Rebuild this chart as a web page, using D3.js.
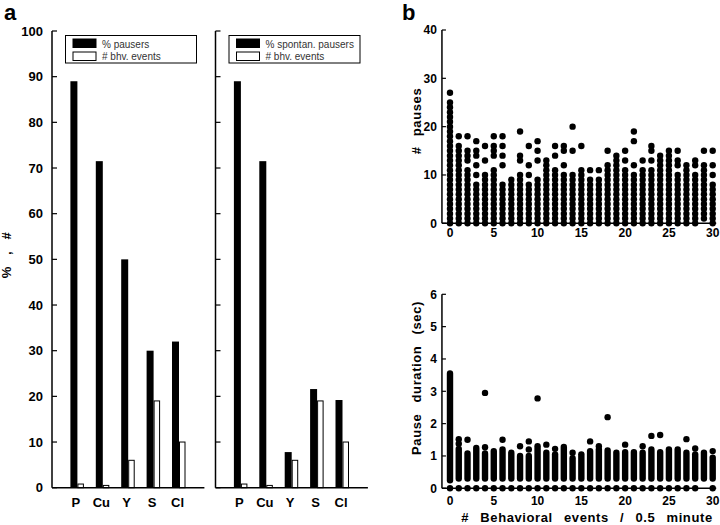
<!DOCTYPE html>
<html><head><meta charset="utf-8">
<script src="https://cdn.jsdelivr.net/npm/d3@7"></script>
<style>body{margin:0;background:#fff} svg{display:block} text{font-family:"Liberation Sans",Arial,Helvetica,sans-serif}</style>
</head><body><svg id="c" width="720" height="525"></svg>
<script>
// ---------- Panel a data ----------
const categories = ["P", "Cu", "Y", "S", "Cl"];
const pctPausers = [89, 71.5, 50, 30, 32];
const pctSpontPausers = [89, 71.5, 7.8, 21.6, 19.2];
const bhvEvents = [0.8, 0.5, 6, 19, 10];
const yTicksA = [0, 10, 20, 30, 40, 50, 60, 70, 80, 90, 100];

// ---------- Panel b data ----------
const eventCounts = [0,1,2,3,4,5,6,7,8,9,10,11,12,13,14,15,16,17,18,19,20,21,22,23,24,25,26,27,28,29,30];
// # pauses: every integer from pauseLow..pauseTop is present, plus extra isolated values
const pauseLow = [0,0,0,0,0,0,0,0,0,0,0,0,0,0,0,0,0,0,0,0,0,0,0,0,0,0,0,0,0,1,0];
const pauseTop = [25,16,11,8,10,11,8,9,10,8,9,13,11,10,10,11,9,9,12,14,11,10,11,11,14,15,10,12,10,12,8];
const pauseExtra = [[27],[18],[13,14,15,18],[10,12,14,15,17],[13,16],[14,15,16,18],[12,14,16,18],[],[13,14,19],[10,12,16],[13,15,17],[],[14,16],[12,15,16],[15,20],[16],[11],[11],[15],[],[13,15],[12,17,19],[13],[13,15,16],[],[],[12,13,15],[],[12,13],[15],[10,12,15]];
// pause duration: dense band durLow..durTop, zero-duration dots, isolated long pauses
const durLow = [0.25,0.3,0.3,0.3,0.3,0.3,0.3,0.3,0.3,0.3,0.3,0.3,0.3,0.3,0.3,0.3,0.3,0.3,0.3,0.3,0.3,0.3,0.3,0.3,0.3,0.3,0.3,0.3,0.3,0.3,0.3];
const durTop = [3.55,1.22,1.08,1.25,1.08,1.15,1.2,1.1,1.0,1.0,1.3,1.1,1.05,1.28,0.93,1.05,1.15,1.2,1.17,1.1,1.12,1.12,1.1,1.2,1.12,1.2,1.2,1.1,1.05,1.1,0.95];
const durExtra = [[],[1.38,1.52],[1.5],[],[1.27,2.95],[],[1.5],[],[1.3],[1.2,1.45],[2.78],[1.35],[1.22],[],[1.1],[],[1.45],[1.3],[2.2],[],[1.35],[],[1.3],[1.62],[1.65],[],[],[1.52],[1.23],[],[1.15]];
const durZero = [0,1,2,3,4,5,6,7,8,9,10,11,12,13,14,15,16,17,18,19,20,21,22,23,24,25,26,27,28,30];
const xTicksB = [0,5,10,15,20,25,30];
const yTicksPause = [0,10,20,30,40];
const yTicksDur = [0,1,2,3,4,5,6];

const svg = d3.select("#c");

// ---------- Panel a ----------
const yA = d3.scaleLinear().domain([0, 100]).range([487.7, 31]);
function barPanel(x0, blackVals, legendText, showLabels) {
  const xA = d3.scaleLinear().domain([0, 6]).range([x0, x0 + 152.4]);
  const g = svg.append("g");
  const bw = 7, ww = 6.5;
  g.selectAll(".blk").data(blackVals).enter().append("rect")
    .attr("x", (d, i) => xA(i + 1) - bw).attr("width", bw)
    .attr("y", d => yA(d)).attr("height", d => yA(0) - yA(d)).attr("fill", "#000");
  g.selectAll(".wht").data(bhvEvents).enter().append("rect")
    .attr("x", (d, i) => xA(i + 1) + 0.5).attr("width", ww - 1)
    .attr("y", d => yA(d)).attr("height", d => yA(0) - yA(d))
    .attr("fill", "#fff").attr("stroke", "#000").attr("stroke-width", 1);
  // axes
  g.append("line").attr("x1", x0).attr("x2", x0).attr("y1", yA(100)).attr("y2", yA(0)).attr("stroke", "#000").attr("stroke-width", 1.5);
  g.append("line").attr("x1", x0).attr("x2", xA(6)).attr("y1", yA(0)).attr("y2", yA(0)).attr("stroke", "#000").attr("stroke-width", 1.5);
  g.selectAll(".tk").data(yTicksA).enter().append("line")
    .attr("x1", x0).attr("x2", x0 + 5).attr("y1", d => yA(d)).attr("y2", d => yA(d)).attr("stroke", "#000").attr("stroke-width", 1.2);
  if (showLabels) {
    g.selectAll(".tl").data(yTicksA).enter().append("text")
      .attr("x", x0 - 9).attr("y", d => yA(d) + 4.6).attr("text-anchor", "end")
      .attr("font-size", 13).attr("font-weight", "bold").text(d => d);
  }
  g.selectAll(".cl").data(categories).enter().append("text")
    .attr("x", (d, i) => xA(i + 1) - 1.5).attr("y", 507).attr("text-anchor", "middle")
    .attr("font-size", 13).attr("font-weight", "bold").text(d => d);
  // legend
  const lx = x0 + 13.5, ly = 35.5;
  g.append("rect").attr("x", lx).attr("y", ly).attr("width", 131).attr("height", 27.5).attr("fill", "#fff").attr("stroke", "#000").attr("stroke-width", 1);
  g.append("rect").attr("x", lx + 7).attr("y", ly + 3).attr("width", 24).attr("height", 9.5).attr("fill", "#000");
  g.append("rect").attr("x", lx + 7.5).attr("y", ly + 16.5).attr("width", 23).attr("height", 8.5).attr("fill", "#fff").attr("stroke", "#000").attr("stroke-width", 1);
  g.append("text").attr("x", lx + 36.5).attr("y", ly + 12.3).attr("font-size", 10).attr("fill", "#333").text(legendText[0]);
  g.append("text").attr("x", lx + 36.5).attr("y", ly + 24.5).attr("font-size", 10).attr("fill", "#333").text(legendText[1]);
}
barPanel(52, pctPausers, ["% pausers", "# bhv. events"], true);
barPanel(215.5, pctSpontPausers, ["% spontan. pausers", "# bhv. events"], false);

svg.append("text").attr("transform", "translate(11,255) rotate(-90)").attr("text-anchor", "middle")
  .attr("font-size", 13).attr("font-weight", "bold").attr("letter-spacing", 0.6).attr("word-spacing", 7).text("% , #");

svg.append("text").attr("x", 4).attr("y", 20).attr("font-size", 22).attr("font-weight", "bold").text("a");
svg.append("text").attr("x", 402).attr("y", 20).attr("font-size", 22).attr("font-weight", "bold").text("b");

// ---------- Panel b ----------
const xB = d3.scaleLinear().domain([0, 30]).range([450, 712.7]);
const xLeft = xB(-0.92), xRight = xB(30.4);
const R = 3.2;

function axesB(y, ticks, tickLabelBaselineOffset) {
  const g = svg.append("g");
  g.append("line").attr("x1", xLeft).attr("x2", xLeft).attr("y1", y.range()[1]).attr("y2", y.range()[0]).attr("stroke", "#000").attr("stroke-width", 1.5);
  g.append("line").attr("x1", xLeft).attr("x2", xRight).attr("y1", y.range()[0]).attr("y2", y.range()[0]).attr("stroke", "#000").attr("stroke-width", 1.5);
  g.selectAll(".tk").data(ticks).enter().append("line")
    .attr("x1", xLeft).attr("x2", xLeft + 4).attr("y1", d => y(d)).attr("y2", d => y(d)).attr("stroke", "#000").attr("stroke-width", 1.2);
  g.selectAll(".tl").data(ticks).enter().append("text")
    .attr("x", xLeft - 5).attr("y", d => y(d) + 4.3).attr("text-anchor", "end")
    .attr("font-size", 12).attr("font-weight", "bold").text(d => d);
  g.selectAll(".xl").data(xTicksB).enter().append("text")
    .attr("x", d => xB(d)).attr("y", y.range()[0] + tickLabelBaselineOffset).attr("text-anchor", "middle")
    .attr("font-size", 12).attr("font-weight", "bold").text(d => d);
  return g;
}

// top: # pauses
const yP = d3.scaleLinear().domain([0, 40]).range([223.3, 30]);
const gP = axesB(yP, yTicksPause, 14);
const pausePts = [];
eventCounts.forEach((e, i) => {
  for (let v = pauseLow[i]; v <= pauseTop[i]; v++) pausePts.push([e, v]);
  pauseExtra[i].forEach(v => pausePts.push([e, v]));
});
gP.selectAll(".pt").data(pausePts).enter().append("circle")
  .attr("cx", d => xB(d[0])).attr("cy", d => yP(d[1])).attr("r", R).attr("fill", "#000");
svg.append("text").attr("transform", "translate(421,121) rotate(-90)").attr("text-anchor", "middle")
  .attr("font-size", 13).attr("font-weight", "bold").attr("letter-spacing", 0.6).attr("word-spacing", 6).text("# pauses");

// bottom: pause duration
const yD = d3.scaleLinear().domain([0, 6]).range([488.3, 294.3]);
const gD = axesB(yD, yTicksDur, 16.5);
gD.selectAll(".band").data(eventCounts).enter().append("rect")
  .attr("x", d => xB(d) - R).attr("width", 2 * R)
  .attr("y", (d, i) => yD(durTop[i]) - R).attr("height", (d, i) => yD(durLow[i]) - yD(durTop[i]) + 2 * R)
  .attr("rx", R).attr("fill", "#000");
const durPts = [];
eventCounts.forEach((e, i) => durExtra[i].forEach(v => durPts.push([e, v])));
durZero.forEach(e => durPts.push([e, 0]));
gD.selectAll(".pt").data(durPts).enter().append("circle")
  .attr("cx", d => xB(d[0])).attr("cy", d => yD(d[1])).attr("r", R).attr("fill", "#000");
svg.append("text").attr("transform", "translate(421,378) rotate(-90)").attr("text-anchor", "middle")
  .attr("font-size", 13).attr("font-weight", "bold").attr("letter-spacing", 0.6).attr("word-spacing", 7).text("Pause duration (sec)");
svg.append("text").attr("x", 587).attr("y", 522).attr("text-anchor", "middle")
  .attr("font-size", 13).attr("font-weight", "bold").attr("letter-spacing", 0.6).attr("word-spacing", 7).text("# Behavioral events / 0.5 minute");
</script></body></html>
